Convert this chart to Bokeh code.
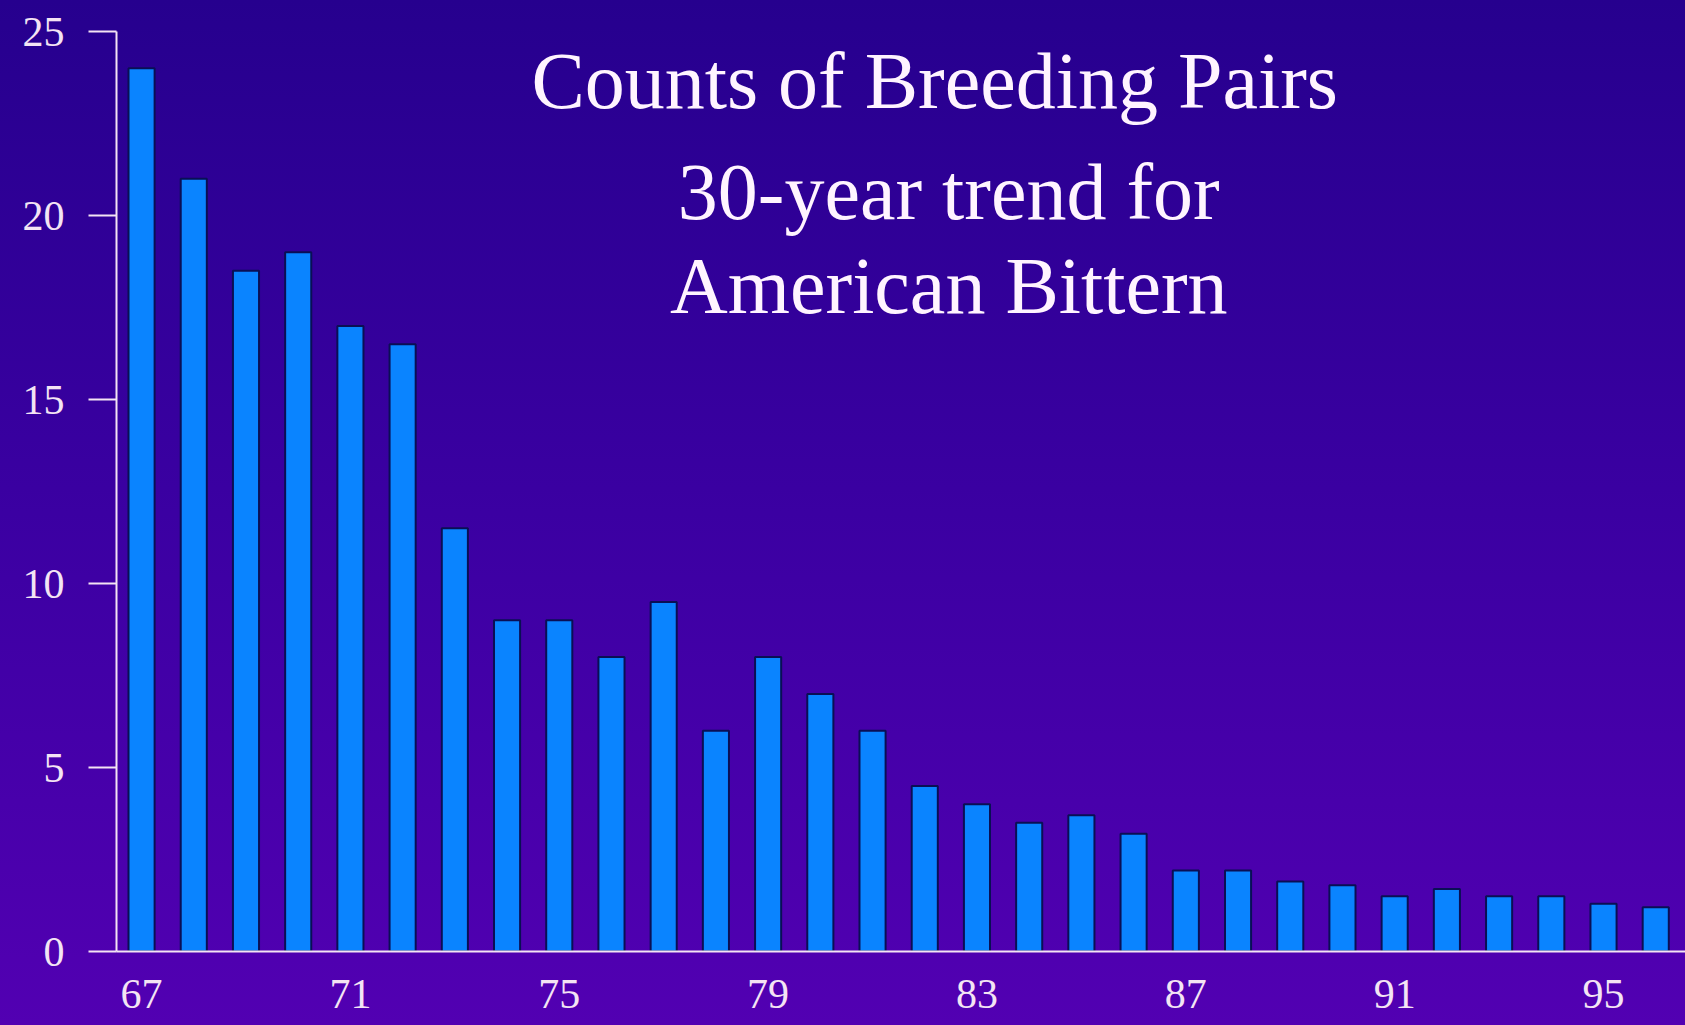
from bokeh.plotting import figure
from bokeh.models import FixedTicker, Label, Range1d, ColumnDataSource
from bokeh.embed import file_html
from bokeh.resources import INLINE

years = list(range(67, 97))
pairs = [24, 21, 18.5, 19, 17, 16.5, 11.5, 9, 9, 8, 9.5, 6, 8, 7, 6,
         4.5, 4, 3.5, 3.7, 3.2, 2.2, 2.2, 1.9, 1.8, 1.5, 1.7, 1.5, 1.5, 1.3, 1.2]
x_ticks = [67, 71, 75, 79, 83, 87, 91, 95]
y_ticks = [0, 5, 10, 15, 20, 25]
title_lines = ["Counts of Breeding Pairs", "30-year trend for", "American Bittern"]

src = ColumnDataSource(dict(year=years, pairs=pairs))

p = figure(width=1685, height=1025, output_backend="svg", toolbar_location=None,
           x_range=Range1d(66.52, 96.57), y_range=Range1d(0, 25),
           min_border_left=116, min_border_right=0, min_border_top=31, min_border_bottom=74)
p.background_fill_alpha = 0
p.border_fill_alpha = 0
p.outline_line_color = None
p.styles = {"background-image": "linear-gradient(to bottom, #26008e 0%, #3b00a2 50%, #5200b2 100%)"}
p.grid.visible = False

p.vbar(x="year", top="pairs", width=0.5, source=src, fill_color="#0a84ff",
       line_color="#0a0f55", line_width=2)

axis_col = "#f4e4f4"
font = "Liberation Serif"
for ax in (p.xaxis[0], p.yaxis[0]):
    ax.axis_line_color = axis_col
    ax.axis_line_width = 2
    ax.major_tick_line_color = axis_col
    ax.major_tick_line_width = 2
    ax.minor_tick_line_color = None
    ax.major_label_text_color = axis_col
    ax.major_label_text_font = font
    ax.major_label_text_font_size = "42px"

p.xaxis.ticker = FixedTicker(ticks=x_ticks)
p.xaxis.major_tick_out = 0
p.xaxis.major_tick_in = 0
p.xaxis.major_label_standoff = 28
p.yaxis.ticker = FixedTicker(ticks=y_ticks)
p.yaxis.major_tick_out = 28
p.yaxis.major_tick_in = 0
p.yaxis.major_label_standoff = 24

pos = [(82.19, 23.66), (82.46, 20.65), (82.46, 18.09)]
for txt, (lx, ly) in zip(title_lines, pos):
    p.add_layout(Label(x=lx, y=ly, text=txt, text_align="center", text_baseline="alphabetic",
                       text_color="#fff4ff", text_font=font, text_font_size="80px"))

open("out.html", "w").write(file_html(p, INLINE))
